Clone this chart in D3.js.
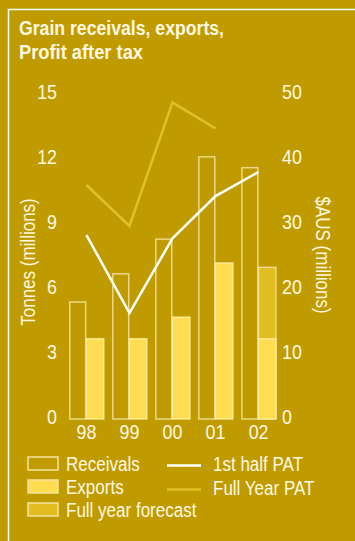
<!DOCTYPE html>
<html>
<head>
<meta charset="utf-8">
<script src="https://cdn.jsdelivr.net/npm/d3@7"></script>
<style>
  body { margin: 0; background: #bf9b00; }
  svg { display: block; }
  text { font-family: "Liberation Sans Narrow", "Liberation Sans", sans-serif; fill: #fff8e0; }
</style>
</head>
<body>
<script>
// chart data
var years = ["98", "99", "00", "01", "02"];
var receivals = [5.4, 6.7, 8.3, 12.1, 11.6];
var exportsT = [3.7, 3.7, 4.7, 7.2, 3.7];
var forecast = [null, null, null, null, 7.0];
var halfPAT = [28.3, 16.3, 27.8, 34.3, 38.0];
var fullPAT = [36.0, 29.7, 48.7, 44.7];
var leftTicks = [0, 3, 6, 9, 12, 15];
var rightTicks = [0, 10, 20, 30, 40, 50];

var W = 355, H = 541;
var bg = "#bf9b00",
    cream = "#f3e3a0",
    expColor = "#ffdc50",
    fcColor = "#e1bd1f",
    fullColor = "#e2c02a";

var svg = d3.select("body").append("svg")
    .attr("width", W)
    .attr("height", H);

svg.append("rect").attr("width", W).attr("height", H).attr("fill", bg);

// frame (top and left only)
svg.append("path")
    .attr("d", "M355,9.5H8.5V541")
    .attr("fill", "none")
    .attr("stroke", "#fff")
    .attr("stroke-width", 1.5);

// title
var title = svg.append("text")
    .attr("class", "title")
    .attr("font-weight", "bold")
    .attr("font-size", 20)
    .attr("fill", "#fff");
title.append("tspan").attr("x", 19).attr("y", 35)
    .attr("textLength", 205).attr("lengthAdjust", "spacingAndGlyphs")
    .text("Grain receivals, exports,");
title.append("tspan").attr("x", 19).attr("y", 59)
    .attr("textLength", 124).attr("lengthAdjust", "spacingAndGlyphs")
    .text("Profit after tax");

var x = d3.scaleBand()
    .domain(years)
    .range([69, 276])
    .paddingInner(0.19)
    .paddingOuter(0);

var yL = d3.scaleLinear().domain([0, 15]).range([419, 94]);
var yR = d3.scaleLinear().domain([0, 50]).range([419, 94]);

var half = x.bandwidth() / 2;

function styleTicks(g) {
    g.select(".domain").remove();
    g.selectAll("text")
        .attr("font-size", 21)
        .attr("fill", "#fff8e0")
        .attr("font-family", "Liberation Sans Narrow, Liberation Sans, sans-serif");
}

// axes (labels only)
svg.append("g").attr("transform", "translate(57,-2.5)")
    .call(d3.axisLeft(yL).tickValues(leftTicks).tickSize(0).tickPadding(0))
    .call(styleTicks);

svg.append("g").attr("transform", "translate(282,-2.5)")
    .call(d3.axisRight(yR).tickValues(rightTicks).tickSize(0).tickPadding(0))
    .call(styleTicks);

svg.append("g").attr("transform", "translate(0,424)")
    .call(d3.axisBottom(x).tickSize(0).tickPadding(0))
    .call(styleTicks);

// axis titles
svg.append("text")
    .attr("transform", "translate(35,262) rotate(-90)")
    .attr("text-anchor", "middle")
    .attr("font-size", 20)
    .text("Tonnes (millions)");

svg.append("text")
    .attr("transform", "translate(316,255) rotate(90)")
    .attr("text-anchor", "middle")
    .attr("font-size", 20)
    .text("$AUS (millions)");

// receivals (outlined bars)
svg.append("g").selectAll("rect")
    .data(years)
    .enter().append("rect")
    .attr("x", function (d) { return x(d) + 0.75; })
    .attr("y", function (d, i) { return yL(receivals[i]); })
    .attr("width", half - 1.5)
    .attr("height", function (d, i) { return yL(0) - yL(receivals[i]); })
    .attr("fill", "none")
    .attr("stroke", cream)
    .attr("stroke-opacity", 0.85)
    .attr("stroke-width", 1.5);

// full year forecast
svg.append("g").selectAll("rect")
    .data(years.filter(function (d, i) { return forecast[i] != null; }))
    .enter().append("rect")
    .attr("x", function (d) { return x(d) + half; })
    .attr("y", function (d) { return yL(forecast[years.indexOf(d)]); })
    .attr("width", half)
    .attr("height", function (d) { return yL(0) - yL(forecast[years.indexOf(d)]); })
    .attr("fill", fcColor)
    .attr("stroke", cream)
    .attr("stroke-width", 1.2);

// exports
svg.append("g").selectAll("rect")
    .data(years)
    .enter().append("rect")
    .attr("x", function (d) { return x(d) + half; })
    .attr("y", function (d, i) { return yL(exportsT[i]); })
    .attr("width", half)
    .attr("height", function (d, i) { return yL(0) - yL(exportsT[i]); })
    .attr("fill", expColor)
    .attr("stroke", "#fff0a8")
    .attr("stroke-width", 1.2);

// PAT lines
var line = d3.line()
    .x(function (d) { return x(d.year) + half; })
    .y(function (d) { return yR(d.v); });

svg.append("path")
    .datum(fullPAT.map(function (v, i) { return { year: years[i], v: v }; }))
    .attr("d", line)
    .attr("fill", "none")
    .attr("stroke", fullColor)
    .attr("stroke-width", 2.5);

svg.append("path")
    .datum(halfPAT.map(function (v, i) { return { year: years[i], v: v }; }))
    .attr("d", line)
    .attr("fill", "none")
    .attr("stroke", "#fff")
    .attr("stroke-width", 2.5);

// legend
var legend = svg.append("g");
var boxes = [
    { label: "Receivals", fill: "none" },
    { label: "Exports", fill: expColor },
    { label: "Full year forecast", fill: fcColor }
];
boxes.forEach(function (b, i) {
    var yy = 457 + i * 23;
    legend.append("rect")
        .attr("x", 28).attr("y", yy)
        .attr("width", 30).attr("height", 13)
        .attr("fill", b.fill)
        .attr("stroke", cream)
        .attr("stroke-width", 1.5);
    legend.append("text")
        .attr("x", 66).attr("y", yy + 13.5)
        .attr("font-size", 20)
        .text(b.label);
});

var lines = [
    { label: "1st half PAT", color: "#fff" },
    { label: "Full Year PAT", color: fullColor }
];
lines.forEach(function (l, i) {
    var yy = 465.5 + i * 24;
    legend.append("line")
        .attr("x1", 167).attr("x2", 201)
        .attr("y1", yy).attr("y2", yy)
        .attr("stroke", l.color)
        .attr("stroke-width", 2.5);
    legend.append("text")
        .attr("x", 213).attr("y", yy + 5)
        .attr("font-size", 20)
        .text(l.label);
});

// the original face is a narrow one; squeeze the regular face to match
svg.selectAll("text:not(.title)").each(function () {
    var len = this.getComputedTextLength();
    d3.select(this)
        .attr("textLength", len * 0.85)
        .attr("lengthAdjust", "spacingAndGlyphs");
});
</script>
</body>
</html>
